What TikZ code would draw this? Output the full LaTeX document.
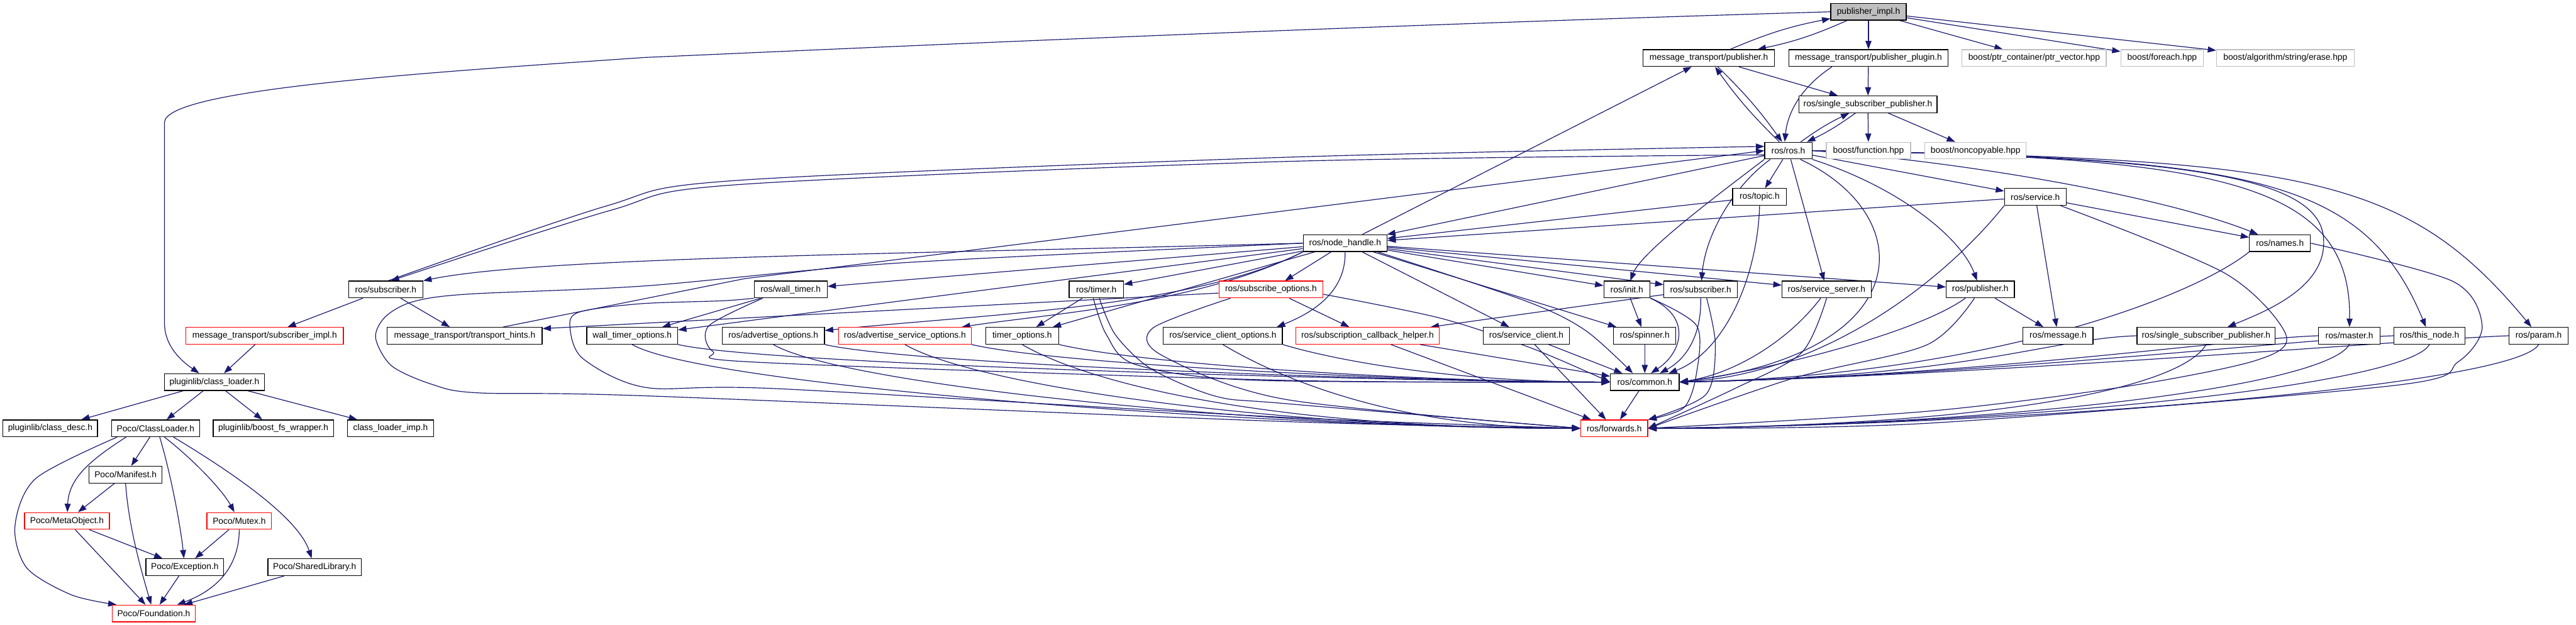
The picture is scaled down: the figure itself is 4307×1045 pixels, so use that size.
\documentclass[tikz,border=0pt]{standalone}
\usepackage{fontspec}
\setmainfont{Liberation Sans}
\usetikzlibrary{arrows.meta}
\definecolor{edgecol}{HTML}{191970}
\definecolor{graybd}{HTML}{BFBFBF}
\definecolor{redbd}{HTML}{FF0000}
\pgfdeclarelayer{bg}
\pgfsetlayers{bg,main}
\begin{document}
\begin{tikzpicture}[x=1pt,y=-1pt,
  box/.style={draw=black, fill=white, line width=1.3pt, minimum height=28pt, inner sep=0pt, font=\fontsize{14.5}{17}\selectfont, text=black},
  gbox/.style={box, draw=graybd},
  rbox/.style={box, draw=redbd},
  root/.style={box, fill=graybd},
  e/.style={draw=edgecol, line width=1.25pt, -{Triangle[length=14pt,width=10pt]}},
]
\useasboundingbox (0,0) rectangle (4307,1045);
% nodes
\node[root,minimum width=126pt] (pimpl) at (3124,19.7) {publisher\_impl.h};
\node[box,minimum width=220pt] (mtpub) at (2857,97.1) {message\_transport/publisher.h};
\node[box,minimum width=266pt] (mtplug) at (3124,97.1) {message\_transport/publisher\_plugin.h};
\node[gbox,minimum width=241pt] (ptrvec) at (3401,97.1) {boost/ptr\_container/ptr\_vector.hpp};
\node[gbox,minimum width=138pt] (foreach) at (3615,97.1) {boost/foreach.hpp};
\node[gbox,minimum width=230pt] (erase) at (3821,97.1) {boost/algorithm/string/erase.hpp};
\node[box,minimum width=231pt] (ssp1) at (3123,174.5) {ros/single\_subscriber\_publisher.h};
\node[box,minimum width=79pt] (rosh) at (2990,251.9) {ros/ros.h};
\node[gbox,minimum width=141pt] (bfunc) at (3124,251.9) {boost/function.hpp};
\node[gbox,minimum width=169pt] (bnonc) at (3303,251.9) {boost/noncopyable.hpp};
\node[box,minimum width=90pt] (topic) at (2942,329.3) {ros/topic.h};
\node[box,minimum width=103pt] (service) at (3403,329.3) {ros/service.h};
\node[box,minimum width=140pt] (nh) at (2249,406.7) {ros/node\_handle.h};
\node[box,minimum width=102pt] (names) at (3812,406.7) {ros/names.h};
\node[box,minimum width=124pt] (subL) at (645,484.1) {ros/subscriber.h};
\node[box,minimum width=122pt] (walltimer) at (1322,484.1) {ros/wall\_timer.h};
\node[box,minimum width=91pt] (timer) at (1833,484.1) {ros/timer.h};
\node[rbox,minimum width=174pt] (subopt) at (2125,484.1) {ros/subscribe\_options.h};
\node[box,minimum width=77pt] (init) at (2720,484.1) {ros/init.h};
\node[box,minimum width=123pt] (subR) at (2843.5,484.1) {ros/subscriber.h};
\node[box,minimum width=149pt] (srvserver) at (3054,484.1) {ros/service\_server.h};
\node[box,minimum width=114pt] (pubh) at (3311,484.1) {ros/publisher.h};
\node[rbox,minimum width=263pt] (subimpl) at (442.5,561.5) {message\_transport/subscriber\_impl.h};
\node[box,minimum width=259pt] (hints) at (777,561.5) {message\_transport/transport\_hints.h};
\node[box,minimum width=152pt] (wtopt) at (1057,561.5) {wall\_timer\_options.h};
\node[box,minimum width=171pt] (advopt) at (1293,561.5) {ros/advertise\_options.h};
\node[rbox,minimum width=222pt] (advsrvopt) at (1513,561.5) {ros/advertise\_service\_options.h};
\node[box,minimum width=122pt] (timeropt) at (1709,561.5) {timer\_options.h};
\node[box,minimum width=199pt] (scopt) at (2044.5,561.5) {ros/service\_client\_options.h};
\node[rbox,minimum width=239pt] (sch) at (2286.5,561.5) {ros/subscription\_callback\_helper.h};
\node[box,minimum width=144pt] (sclient) at (2552,561.5) {ros/service\_client.h};
\node[box,minimum width=104pt] (spinner) at (2750,561.5) {ros/spinner.h};
\node[box,minimum width=117pt] (message) at (3441,561.5) {ros/message.h};
\node[box,minimum width=231pt] (ssp2) at (3688.5,561.5) {ros/single\_subscriber\_publisher.h};
\node[box,minimum width=103pt] (master) at (3928,561.5) {ros/master.h};
\node[box,minimum width=119pt] (thisnode) at (4062,561.5) {ros/this\_node.h};
\node[box,minimum width=99pt] (param) at (4244.5,561.5) {ros/param.h};
\node[box,minimum width=167pt] (classloader) at (358.5,638.9) {pluginlib/class\_loader.h};
\node[box,minimum width=115pt] (common) at (2750,638.9) {ros/common.h};
\node[box,minimum width=158pt] (classdesc) at (84,716.3) {pluginlib/class\_desc.h};
\node[box,minimum width=147pt] (pococl) at (260,716.3) {Poco/ClassLoader.h};
\node[box,minimum width=201pt] (fswrap) at (457,716.3) {pluginlib/boost\_fs\_wrapper.h};
\node[box,minimum width=144pt] (climp) at (653,716.3) {class\_loader\_imp.h};
\node[rbox,minimum width=112pt] (forwards) at (2699,716.3) {ros/forwards.h};
\node[box,minimum width=122pt] (manifest) at (210,793.7) {Poco/Manifest.h};
\node[rbox,minimum width=142pt] (metaobj) at (112,871.1) {Poco/MetaObject.h};
\node[rbox,minimum width=108pt] (mutex) at (400,871.1) {Poco/Mutex.h};
\node[box,minimum width=130pt] (exception) at (309,948.5) {Poco/Exception.h};
\node[box,minimum width=156pt] (sharedlib) at (526,948.5) {Poco/SharedLibrary.h};
\node[rbox,minimum width=139pt] (foundation) at (257,1025.9) {Poco/Foundation.h};

\begin{pgfonlayer}{bg}
\fill[white] (0,0) rectangle (4307,1045);
% top part
\draw[e] (pimpl) to[bend left=6] (mtpub);
\draw[e] (mtpub) to[bend left=6] (pimpl);
\draw[e] (pimpl) -- (mtplug);
\draw[e] (pimpl) -- (ptrvec);
\draw[e] (pimpl) -- (foreach);
\draw[e] (pimpl) -- (erase);
\draw[e] (pimpl.west) .. controls (2200,45) and (1400,82) .. (1080,96) .. controls (700,122) and (275,150) .. (275,205) -- (275,540) .. controls (275,580) and (305,605) .. (classloader.150);
\draw[e] (mtpub) to[bend left=5] (rosh);
\draw[e] (rosh) to[bend left=5] (mtpub);
\draw[e] (mtpub) -- (ssp1);
\draw[e] ([xshift=-61pt]mtplug.south) .. controls (3005,150) and (2988,195) .. ([xshift=-6pt]rosh.north);
\draw[e] (mtplug) -- (ssp1);
\draw[e] (ssp1) to[bend left=5] (rosh);
\draw[e] (rosh) to[bend left=5] (ssp1);
\draw[e] (ssp1) -- (bfunc);
\draw[e] (ssp1) -- (bnonc);
\draw[e] (nh) -- (mtpub);
% ros.h
\draw[e] (rosh) -- (topic);
\draw[e] (rosh) -- (nh);
\draw[e] (topic) -- (nh);
\draw[e] (service) -- (nh);
\draw[e] (rosh) -- (service);
\draw[e] (service) -- (names);
\draw[e] (rosh.east) .. controls (3300,272) and (3620,330) .. (names);
\draw[e] (rosh.south west) .. controls (2880,320) and (2745,420) .. (init);
\draw[e] ([xshift=10pt]rosh.south west) .. controls (2900,310) and (2852,390) .. (subR);
\draw[e] (rosh) -- (srvserver);
\draw[e] (rosh.south east) .. controls (3180,315) and (3280,400) .. (pubh);
\draw[e] ([xshift=20pt]rosh.south) .. controls (3210,360) and (3210,590) .. (common.east);
\draw[e] (rosh.east) .. controls (3600,262) and (3880,285) .. (3885,400) .. controls (3890,480) and (3790,520) .. (ssp2);
\draw[e] (rosh.east) .. controls (3700,262) and (3932,300) .. (master);
\draw[e] (rosh.east) .. controls (3750,264) and (3950,290) .. (thisnode);
\draw[e] (rosh.east) .. controls (3850,266) and (4020,290) .. (param);
\draw[e] plot[smooth] coordinates {(rosh.190) (2150,270) (1230,309) (1020,352) (subL.60)};
\draw[e] plot[smooth] coordinates {(subL.75) (1012,345) (1228,302) (2150,263) (rosh.170)};
\draw[e] ([xshift=-66pt]hints.north east) -- (1245,466) -- (rosh.west);
% node_handle
\draw[e] (nh.west) .. controls (1500,425) and (900,430) .. (subL.north east);
\draw[e] (nh) -- (walltimer);
\draw[e] (nh) -- (timer);
\draw[e] (nh) -- (wtopt);
\draw[e] (nh.south west) .. controls (1990,515) and (1650,525) .. (advopt);
\draw[e] (nh.south west) .. controls (2000,510) and (1750,525) .. (advsrvopt);
\draw[e] (nh) -- (timeropt);
\draw[e] (nh) -- (subopt);
\draw[e] (nh.south) .. controls (2250,475) and (2215,515) .. ([xshift=-10pt]scopt.north east);
\draw[e] (nh) -- (sclient);
\draw[e] (nh) -- (spinner);
\draw[e] (nh) -- (init);
\draw[e] (nh) -- (subR);
\draw[e] (nh) -- (srvserver);
\draw[e] (nh) -- (pubh);
\draw[e] plot[smooth] coordinates {(nh.-15) (2550,503) (2650,552) ([xshift=-20pt]common.north)};
\draw[e] plot[smooth] coordinates {(nh.west) (1500,440) (1080,478) (780,492) (689,505) (644,530) (628,565) (655,612) (723,643) (800,657) (1080,662) (2150,705) (forwards.west)};
% wall_timer
\draw[e] (walltimer) -- (wtopt);
\draw[e] plot[smooth] coordinates {([xshift=15pt]walltimer.south west) (1185,545) (1192,588) (1270,606) (2150,636) (common.west)};
\draw[e] plot[smooth] coordinates {(walltimer.south west) (1208,503) (1070,508) (968,522) (953,548) (975,600) (1080,648) (1300,650) (2150,698) (forwards.west)};
% timer
\draw[e] (timer) -- (timeropt);
\draw[e] plot[smooth] coordinates {([xshift=-5pt]timer.south) (1850,560) (1900,610) (2100,636) (common.west)};
\draw[e] plot[smooth] coordinates {([xshift=5pt]timer.south) (1865,560) (1925,617) (2034,663) (2150,675) (forwards.west)};
% subscribe_options
\draw[e] ([yshift=-6pt]subopt.west) -- ([yshift=12pt]hints.east);
\draw[e] (subopt) -- (sch);
\draw[e] plot[smooth] coordinates {([yshift=-8pt]subopt.east) (2408,532) (2560,582) (common.west)};
\draw[e] plot[smooth] coordinates {([xshift=20pt]subopt.south west) (1927,549) (1944,595) (2150,668) (forwards.west)};
% init
\draw[e] (init) -- (spinner);
\draw[e] (init.south east) .. controls (2830,530) and (2812,590) .. ([xshift=10pt]common.north);
\draw[e] plot[smooth] coordinates {(init.-20) (2837,545) (2836,627) (2815,682) (forwards.north east)};
% right subscriber
\draw[e] (subR) -- (sch);
\draw[e] (subR.south) .. controls (2845,560) and (2820,600) .. ([xshift=25pt]common.north);
\draw[e] plot[smooth] coordinates {([xshift=10pt]subR.south) (2868,577) (2852,660) (forwards.north east)};
% service_server
\draw[e] ([xshift=-10pt]srvserver.south) .. controls (2990,570) and (2900,625) .. (common.east);
\draw[e] plot[smooth] coordinates {(srvserver.south) (3012,590) (2900,650) (forwards.east)};
% publisher
\draw[e] (pubh) -- (message);
\draw[e] ([xshift=-25pt]pubh.south) .. controls (3200,560) and (2950,620) .. (common.east);
\draw[e] plot[smooth] coordinates {([xshift=-10pt]pubh.south) (3221,577) (3000,632) (forwards.east)};
% rank 7 left
\foreach \n in {wtopt,advopt,advsrvopt,timeropt} {
  \draw[e] (\n.south east) .. controls +(150,35) and +(-300,0) .. (common.west);
  \draw[e] (\n.south) .. controls +(120,70) and +(-500,0) .. (forwards.west);
}
\draw[e] (scopt.south east) .. controls +(100,30) and +(-250,0) .. (common.west);
\draw[e] (scopt.south) .. controls +(100,60) and +(-300,0) .. (forwards.west);
\draw[e] (sch) -- (common);
\draw[e] (sch) -- (forwards);
\draw[e] (sclient) -- (common);
\draw[e] (sclient) -- (forwards);
\draw[e] (spinner) -- (common);
% rank 7 right
\foreach \n in {ssp2,master,thisnode,param} {
  \draw[e] (\n.west) .. controls +(-150,5) and +(500,-10) .. (common.east);
  \draw[e] (\n.south) .. controls +(-40,70) and +(600,-5) .. (forwards.east);
}
% names, service, topic
\draw[e] (names.south west) .. controls +(-100,80) and +(500,-10) .. (common.east);
\draw[e] plot[smooth] coordinates {(names.east) (4100,470) (4150,545) (4110,605) (4000,645) (3220,708) (forwards.east)};
\draw[e] (service) -- (message);
\draw[e] (service.south west) .. controls (3250,470) and (3050,625) .. (common.east);
\draw[e] plot[smooth] coordinates {([xshift=-10pt]service.south east) (3720,457) (3822,560) (3771,603) (3550,647) (3220,688) (forwards.east)};
\draw[e] (topic.south) .. controls (2938,470) and (2880,590) .. ([xshift=40pt]common.north);
\draw[e] (common) -- (forwards);
% pluginlib / Poco
\draw[e] (subL) -- (subimpl);
\draw[e] (subL) -- (hints);
\draw[e] (subimpl) -- (classloader);
\draw[e] (classloader) -- (classdesc);
\draw[e] (classloader) -- (pococl);
\draw[e] (classloader) -- (fswrap);
\draw[e] (classloader) -- (climp);
\draw[e] (pococl) -- (manifest);
\draw[e] ([xshift=25pt]pococl.south west) .. controls (150,770) and (115,800) .. (metaobj);
\draw[e] plot[smooth] coordinates {([xshift=10pt]pococl.south west) (60,800) (25,880) (45,950) (120,995) ([xshift=8pt]foundation.north west)};
\draw[e] ([xshift=7pt]pococl.south) .. controls (285,790) and (302,880) .. (exception);
\draw[e] ([xshift=15pt]pococl.south) .. controls (325,770) and (372,820) .. (mutex);
\draw[e] ([xshift=30pt]pococl.south) .. controls (405,800) and (500,870) .. (sharedlib);
\draw[e] (manifest) -- (metaobj);
\draw[e] (manifest.south) .. controls (215,880) and (235,950) .. (foundation);
\draw[e] (metaobj) -- (exception);
\draw[e] (metaobj) -- (foundation);
\draw[e] (mutex) -- (exception);
\draw[e] (mutex.south) .. controls (400,930) and (380,980) .. (foundation);
\draw[e] (exception) -- (foundation);
\draw[e] (sharedlib) -- (foundation);
\end{pgfonlayer}
\end{tikzpicture}
\end{document}
